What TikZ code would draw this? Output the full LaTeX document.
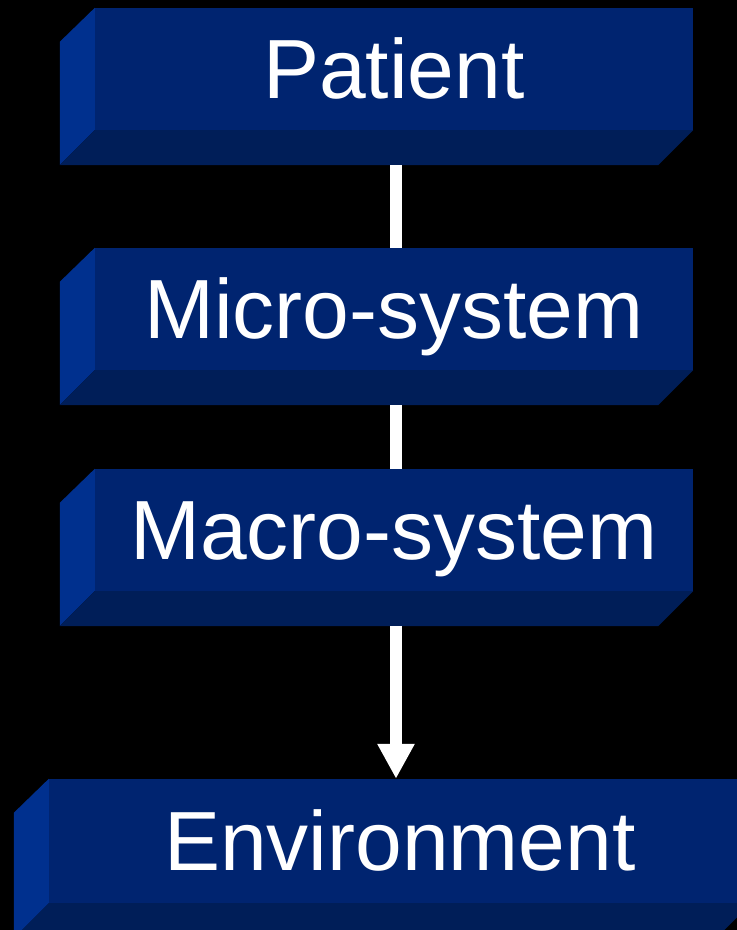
\documentclass[tikz,border=0pt]{standalone}
\usepackage{fontspec}
\setmainfont{Liberation Sans}
\usetikzlibrary{arrows.meta}
\definecolor{faceblue}{RGB}{0,36,112}
\definecolor{sideblue}{RGB}{0,48,142}
\definecolor{lowblue}{RGB}{0,30,88}

\begin{document}
\begin{tikzpicture}[x=1pt,y=1pt,
face/.style={fill=faceblue,rectangle,inner sep=0pt,minimum width=598pt,minimum height=122pt,
    text=white,text height=60pt,text depth=0pt,font=\fontsize{84}{96}\selectfont},
link/.style={draw=white,line width=12pt}]
\fill[black] (0,0) rectangle (737,930);
\useasboundingbox (0,0) rectangle (737,930);
\clip (0,0) rectangle (737,930);
\node (pat) [face] at (394,861) {Patient};
\node (mic) [face] at (394,621) {Micro-system};
\node (mac) [face] at (394,400) {Macro-system};
\node (env) [face,minimum width=702pt,minimum height=124pt] at (400,89) {Environment};
% bevels
\foreach \b in {pat,mic,mac,env} {
  \fill[sideblue] (\b.north west) -- ++(-35,-34) -- ([xshift=-35pt,yshift=-35pt]\b.south west)
      -- (\b.south west) -- cycle;
  \fill[lowblue] (\b.south west) -- ([xshift=-35pt,yshift=-35pt]\b.south west)
      -- ([xshift=-35pt,yshift=-35pt]\b.south east) -- (\b.south east) -- cycle;
}
\draw[link] ([xshift=2pt,yshift=-35pt]pat.south) -- ([xshift=2pt]mic.north);
\draw[link] ([xshift=2pt,yshift=-35pt]mic.south) -- ([xshift=2pt]mac.north);
\draw[link,-{Triangle[width=35pt,length=35pt]}] ([xshift=2pt,yshift=-35pt]mac.south)
    -- ([xshift=2pt]mac.south |- env.north);
\end{tikzpicture}
\end{document}
